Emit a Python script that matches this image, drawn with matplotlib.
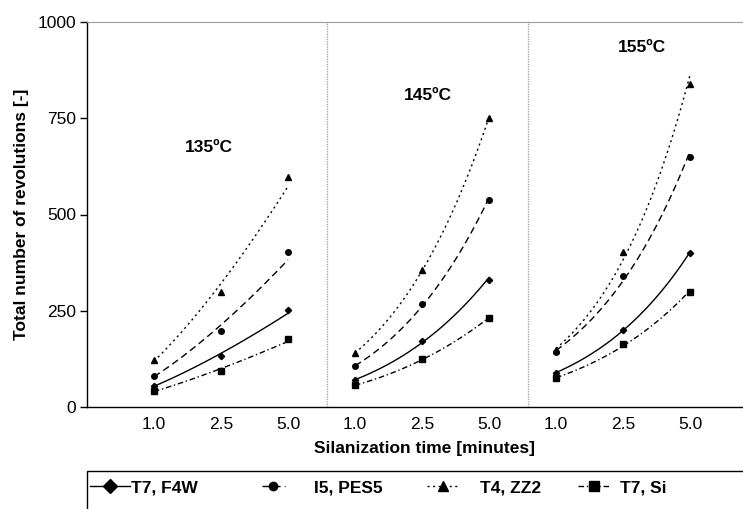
import numpy as np
import matplotlib
matplotlib.use("Agg")
import matplotlib.pyplot as plt
from matplotlib.lines import Line2D
from matplotlib.patches import Rectangle

plt.rcParams['font.family'] = ['Liberation Sans', 'DejaVu Sans']

# silanization times per temperature block, placed on consecutive categories
times = ["1.0", "2.5", "5.0"]
temps = ["135ºC", "145ºC", "155ºC"]

# measured values, one list per temperature block
t7_f4w = [[55, 132, 252], [70, 172, 331], [89, 200, 401]]
i5_pes5 = [[81, 197, 402], [106, 267, 537], [144, 341, 650]]
t4_zz2 = [[122, 300, 598], [140, 356, 750], [148, 403, 838]]
t7_si = [[41, 94, 177], [56, 124, 231], [75, 163, 298]]

series = [
    ("T7, F4W", t7_f4w, "D", "-", 3.2),
    ("I5, PES5", i5_pes5, "o", (0, (5, 3)), 4),
    ("T4, ZZ2", t4_zz2, "^", (0, (1.5, 2.5)), 5),
    ("T7, Si", t7_si, "s", (0, (4, 2, 1, 2)), 4),
]

fig = plt.figure(figsize=(7.43, 5.09), dpi=100)
W, H = 743, 509
ax = fig.add_axes([87 / W, 1 - 407 / H, (W - 87) / W, (407 - 22) / H])

step = 67.0
for name, vals, mk, ls, ms in series:
    for b in range(3):
        x = np.arange(1, 4) + 3 * b
        y = np.array(vals[b], dtype=float)
        ax.plot(x, y, linestyle="none", marker=mk, markersize=ms, color="black")
        # power trendline like the spreadsheet one
        bb, aa = np.polyfit(np.log(x), np.log(y), 1)
        xf = np.linspace(x[0], x[-1], 60)
        ax.plot(xf, np.exp(aa) * xf ** bb, linestyle=ls, color="black", lw=1.0)

for xd in [3.587, 6.578]:
    ax.axvline(xd, color="#999999", lw=0.9, linestyle=(0, (1, 1)))

fs = 12.5
ax.text(1.82, 673, temps[0], ha="center", va="center", fontsize=fs, fontweight="bold")
ax.text(5.09, 810, temps[1], ha="center", va="center", fontsize=fs, fontweight="bold")
ax.text(8.28, 935, temps[2], ha="center", va="center", fontsize=fs, fontweight="bold")

ax.set_xlim(0, (W - 87) / step)
ax.set_ylim(0, 1000)
ax.set_xticks(np.arange(1, 10))
ax.set_xticklabels(times * 3, fontsize=fs)
ax.set_yticks([0, 250, 500, 750, 1000])
ax.tick_params(axis="y", labelsize=fs, length=5, width=1, direction="out", pad=3)
ax.tick_params(axis="x", length=0, pad=7)
ax.spines["right"].set_visible(False)
ax.spines["top"].set_color("#999999")
ax.spines["left"].set_linewidth(1.0)
ax.spines["bottom"].set_linewidth(1.0)
ax.set_xlabel("Silanization time [minutes]", fontsize=fs, fontweight="bold", labelpad=7)
ax.xaxis.label.set_x((425 - 87) / (W - 87))
ax.set_ylabel("Total number of revolutions [-]", fontsize=fs, fontweight="bold", labelpad=6)

# legend box running off the right and bottom edges
fig.patches.append(Rectangle((87 / W, -0.05), 1.0, (509 - 471) / H + 0.05,
                             transform=fig.transFigure, fill=False,
                             edgecolor="black", lw=1.0))
leg_x = [90, 262, 427, 578]
leg_hl = [2.3, 1.32, 1.9, 1.84]
leg_pad = [0.05, 1.7, 1.15, 0.57]
leg_ms = [7, 6, 6.5, 6.5]
for (name, vals, mk, ls, ms), lx, hl, tp, lms in zip(series, leg_x, leg_hl, leg_pad, leg_ms):
    h = Line2D([], [], color="black", linestyle=ls, marker=mk, markersize=lms, lw=1.0)
    fig.legend([h], [name], loc="center left",
               bbox_to_anchor=(lx / W, 1 - 488 / H), frameon=False,
               handlelength=hl, handletextpad=tp,
               borderaxespad=0, borderpad=0,
               prop={"size": fs, "weight": "bold"})

fig.savefig("out.png", dpi=100)
